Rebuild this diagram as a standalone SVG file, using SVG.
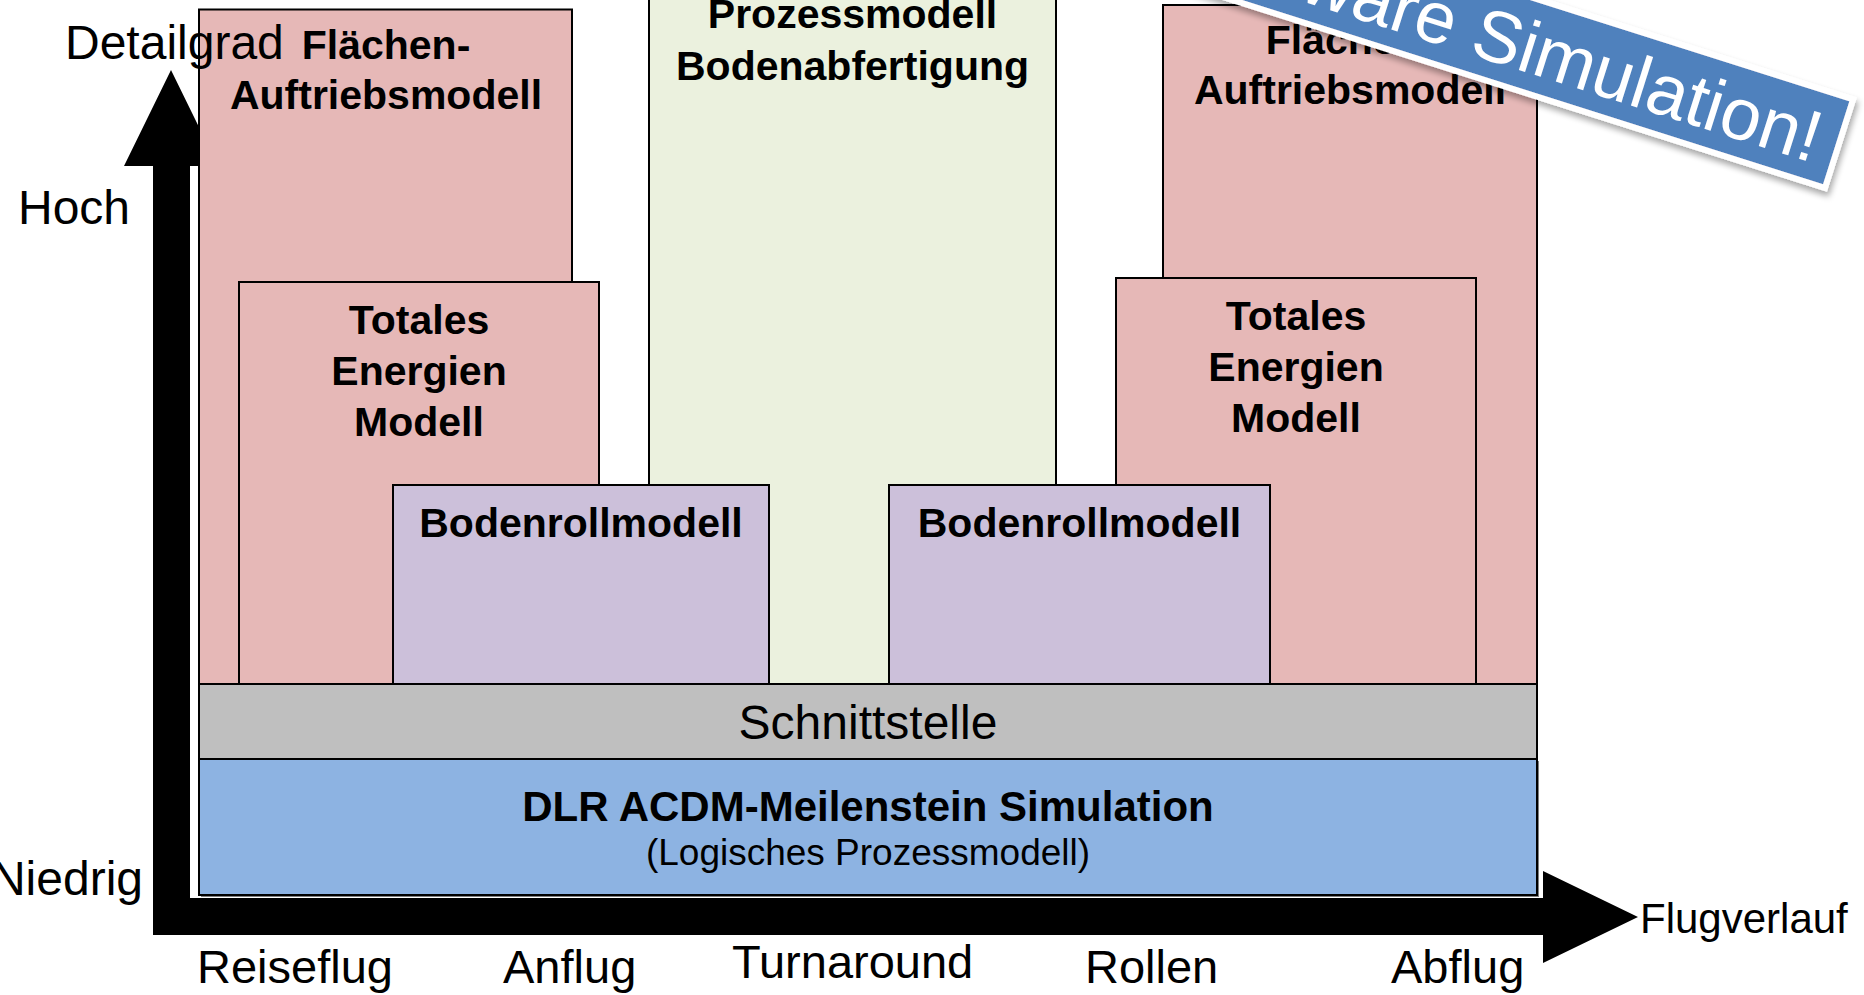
<svg xmlns="http://www.w3.org/2000/svg" width="1864" height="995" viewBox="0 0 1864 995">
<style>
.box{stroke:#000;stroke-width:2}
.red{fill:#e6b8b7}
.lil{fill:#ccc0da}
.grn{fill:#ebf1de}
.gry{fill:#bfbfbf}
.blu{fill:#8db3e2}
.b{font-family:"Liberation Sans",Arial,sans-serif;font-weight:bold;font-size:41px;fill:#000;text-anchor:middle}
.r{font-family:"Liberation Sans",Arial,sans-serif;font-size:48px;fill:#000}
.ax{fill:#000}
</style>
<defs>
<filter id="sh" x="-10%" y="-50%" width="120%" height="200%">
<feDropShadow dx="3" dy="4" stdDeviation="3" flood-color="#000" flood-opacity="0.35"/>
</filter>
</defs>
<rect width="1864" height="995" fill="#fff"/>

<g id="connectors">
<path class="ax" d="M153,166 L124,166 L171,70 L218,166 L190,166 L190,898 L1543,898 L1543,871 L1638,917 L1543,963 L1543,935 L153,935 Z"/>
</g>

<g id="flaechen-links">
<rect class="box red" x="199" y="9.5" width="373" height="675"/>
<text class="b" x="386" y="59">Flächen-</text>
<text class="b" x="386" y="109">Auftriebsmodell</text>
</g>
<g id="flaechen-rechts">
<rect class="box red" x="1163" y="5" width="374" height="680"/>
<text class="b" x="1350" y="54">Flächen-</text>
<text class="b" x="1350" y="104">Auftriebsmodell</text>
</g>
<g id="energie-links">
<rect class="box red" x="239" y="282" width="360" height="402"/>
<text class="b" x="419" y="334">Totales</text>
<text class="b" x="419" y="385">Energien</text>
<text class="b" x="419" y="436">Modell</text>
</g>
<g id="energie-rechts">
<rect class="box red" x="1116" y="278" width="360" height="406"/>
<text class="b" x="1296" y="330">Totales</text>
<text class="b" x="1296" y="381">Energien</text>
<text class="b" x="1296" y="432">Modell</text>
</g>
<g id="bodenabfertigung">
<rect class="box grn" x="649" y="-2" width="407" height="686"/>
<text class="b" x="852.5" y="28">Prozessmodell</text>
<text class="b" x="852.5" y="80">Bodenabfertigung</text>
</g>
<g id="bodenroll-links">
<rect class="box lil" x="393" y="485" width="376" height="199"/>
<text class="b" x="581" y="537">Bodenrollmodell</text>
</g>
<g id="bodenroll-rechts">
<rect class="box lil" x="889" y="485" width="381" height="199"/>
<text class="b" x="1079.5" y="537">Bodenrollmodell</text>
</g>
<g id="schnittstelle">
<rect class="box gry" x="199" y="684" width="1338" height="75"/>
<text class="r" x="868" y="739" text-anchor="middle">Schnittstelle</text>
</g>
<g id="acdm">
<rect x="201" y="761" width="1338" height="136" fill="#7f7f7f"/>
<rect class="box blu" x="199" y="759" width="1338" height="136"/>
<text class="b" x="868" y="821" style="font-size:42px">DLR ACDM-Meilenstein Simulation</text>
<text class="r" x="868" y="865" text-anchor="middle" style="font-size:37px">(Logisches Prozessmodell)</text>
</g>

<g id="labels">
<text class="r" x="65" y="59">Detailgrad</text>
<text class="r" x="18" y="224">Hoch</text>
<text class="r" x="143" y="895" text-anchor="end">Niedrig</text>
<text class="r" x="1640" y="933" style="font-size:42px">Flugverlauf</text>
<text class="r" x="197" y="983" style="font-size:47px">Reiseflug</text>
<text class="r" x="503" y="983" style="font-size:47px">Anflug</text>
<text class="r" x="732" y="978" style="font-size:47px">Turnaround</text>
<text class="r" x="1085" y="983" style="font-size:47px">Rollen</text>
<text class="r" x="1391" y="983" style="font-size:47px">Abflug</text>
</g>

<g id="banner" transform="translate(1825,188) rotate(17.6)">
<rect x="-1100" y="-93" width="1100" height="93" fill="#4f81bd" stroke="#fff" stroke-width="6" filter="url(#sh)"/>
<text x="-20" y="-20" text-anchor="end" style="font-family:'Liberation Sans',Arial,sans-serif;font-size:73px;fill:#fff">Software Simulation!</text>
</g>
</svg>
